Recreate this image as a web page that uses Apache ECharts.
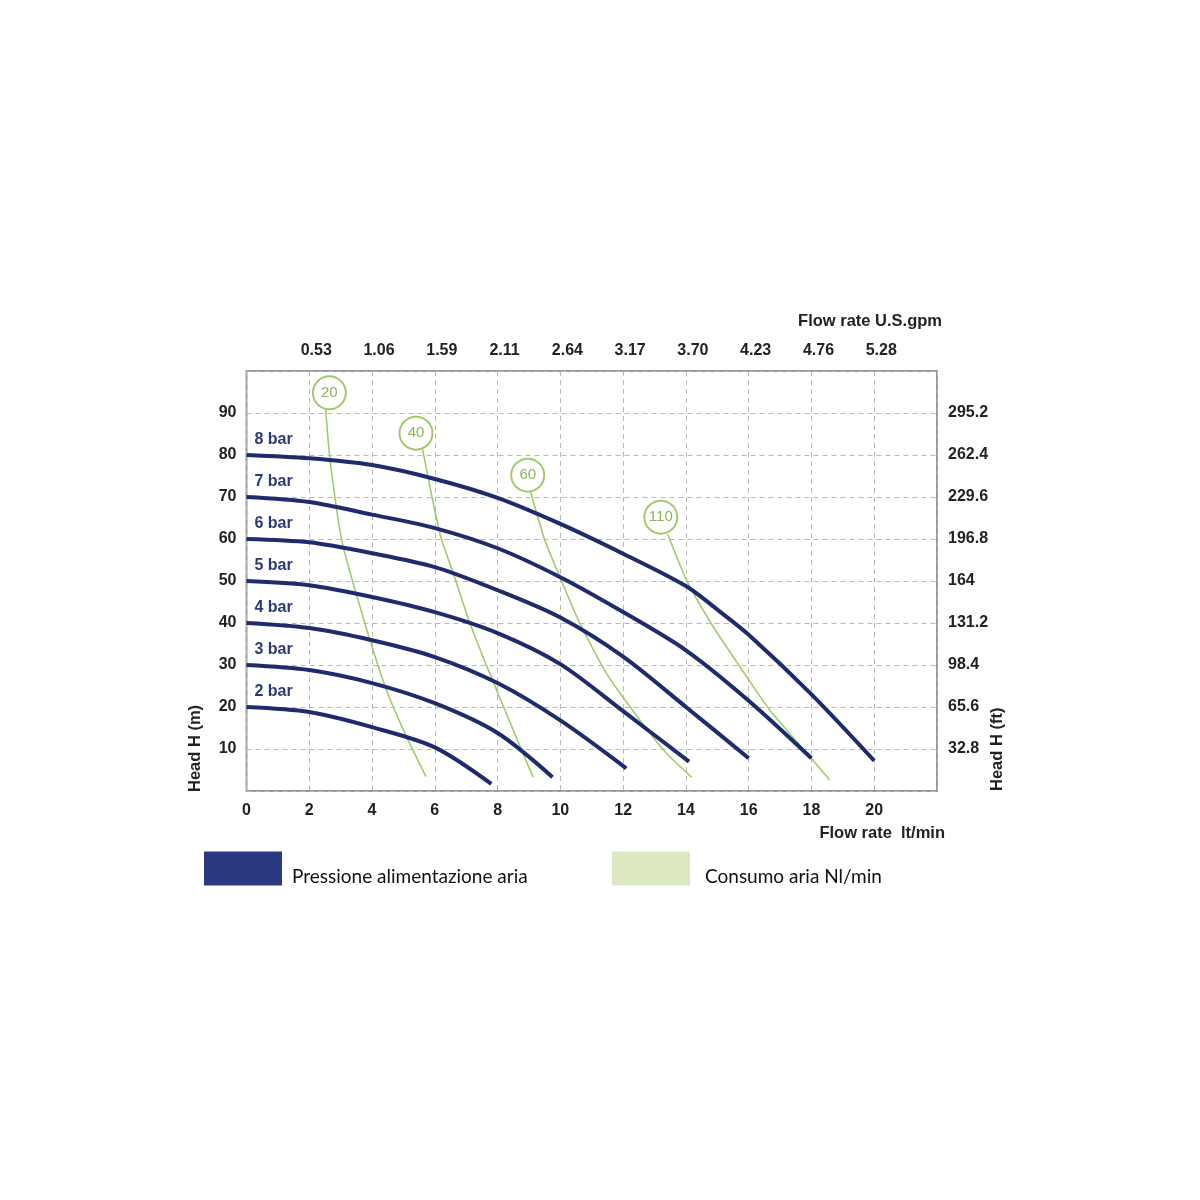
<!DOCTYPE html>
<html>
<head>
<meta charset="utf-8">
<script src="https://cdn.jsdelivr.net/npm/echarts@6/dist/echarts.min.js"></script>
<style>
html,body{margin:0;padding:0;background:#fff;}
#chart{width:1200px;height:1200px;}
</style>
</head>
<body>
<div id="chart"></div>
<script>
// ---- Data ----
const gpmLabels = ['0.53','1.06','1.59','2.11','2.64','3.17','3.70','4.23','4.76','5.28'];
const ftLabels = ['32.8','65.6','98.4','131.2','164','196.8','229.6','262.4','295.2'];

const pressureNames = ['2 bar','3 bar','4 bar','5 bar','6 bar','7 bar','8 bar'];
const bar2 = [[0,20],[2,18.8],[4,15.2],[6,10.4],[7.8,1.7]];
const bar3 = [[0,30],[2,28.8],[4,25.7],[6,20.9],[8,13.8],[9.75,3.3]];
const bar4 = [[0,40],[2,38.8],[4,35.9],[6,31.9],[8,25.7],[10,16.8],[12.1,5.4]];
const bar5 = [[0,50],[2,49],[4,46.2],[6,42.6],[8,37.6],[10,30.2],[12,19],[14.1,7]];
const bar6 = [[0,60],[2,59.2],[4,56.6],[6,53.3],[8,47.8],[10,41.3],[12,32],[14,20],[16,7.8]];
const bar7 = [[0,70],[2,68.8],[4,65.8],[6,62.6],[8,57.8],[10,50.9],[12,42.6],[14,33.5],[16,21.5],[18,7.8]];
const bar8 = [[0,80],[2,79.2],[4,77.6],[6,74.3],[8,69.8],[10,63.6],[12,56.5],[14,48.8],[15,43.2],[16,37.2],[18,23],[20,7.2]];
const pressureData = [bar2,bar3,bar4,bar5,bar6,bar7,bar8];

const airLabels = ['20','40','60','110'];
const airCircle = [[2.64,94.8],[5.4,85.2],[8.96,75.2],[13.2,65.2]];
const air20 = [[2.52,91],[2.66,79],[3.03,59.8],[3.4,49.4],[3.93,36],[4.46,24],[5.1,12.9],[5.72,3.4]];
const air40 = [[5.61,81.4],[5.95,68.5],[6.22,59.8],[6.59,51.8],[7.12,39.9],[7.75,28],[8.5,14.5],[9.13,3.3]];
const air60 = [[9.05,71.3],[9.5,59.8],[9.98,51],[10.62,39.9],[11.47,28],[12.53,16.9],[13.38,9],[14.18,3.3]];
const air110 = [[13.41,61.2],[13.49,59.8],[14.02,50.2],[14.87,39.1],[15.72,29.6],[16.67,19.3],[17.95,8.2],[18.58,2.6]];
const airData = [air20,air40,air60,air110];

// ---- Styles ----
const BLUE = '#1f2b6c';
const BLUE_LEGEND = '#2b3a80';
const GREEN = '#a3cb6e';
const GREEN_TEXT = '#8ab55a';
const GREEN_LEGEND = '#dce8c2';
const FONT = 'Liberation Sans, Arial, sans-serif';
const LEG_P = 'Pressione alimentazione aria';
const LEG_C = 'Consumo aria Nl/min';

const series = [];
pressureData.forEach((d, i) => {
  series.push({
    name: LEG_P,
    type: 'line',
    data: d.map((p, j) => j === 0 ? {
      value: p,
      label: {
        show: true, position: 'top', align: 'left', distance: 7, offset: [8, 0],
        formatter: pressureNames[i], color: '#2d3a78', fontWeight: 'bold',
        fontSize: 16, fontFamily: FONT
      }
    } : p),
    smooth: 0.3,
    symbol: 'circle',
    symbolSize: 0,
    showSymbol: true,
    clip: false,
    lineStyle: { color: BLUE, width: 4 },
    itemStyle: { color: BLUE },
    z: 3
  });
});
airData.forEach((d, i) => {
  series.push({
    name: LEG_C,
    type: 'line',
    data: d,
    smooth: 0.2,
    symbol: 'none',
    lineStyle: { color: GREEN, width: 1.6 },
    itemStyle: { color: GREEN },
    z: 2,
    markPoint: {
      symbol: 'circle',
      symbolSize: 33,
      silent: true,
      itemStyle: { color: '#ffffff', borderColor: GREEN, borderWidth: 2 },
      label: { show: true, position: 'inside', formatter: airLabels[i], color: GREEN_TEXT, fontSize: 15, fontFamily: FONT },
      data: [{ coord: airCircle[i], value: airLabels[i] }]
    }
  });
});

const legendText = { fontFamily: 'Lato, Open Sans, sans-serif', fontSize: 19, color: '#111', lineHeight: 16 };

const chart = echarts.init(document.getElementById('chart'), null, { renderer: 'canvas' });
chart.setOption({
  backgroundColor: '#ffffff',
  animation: false,
  grid: {
    left: 246.5, top: 371, width: 690.5, height: 420,
    show: true, borderColor: '#9a9a9a', borderWidth: 2, backgroundColor: 'transparent'
  },
  legend: [
    {
      left: 199, top: 846, itemWidth: 78, itemHeight: 34, icon: 'rect', selectedMode: false,
      data: [{ name: LEG_P, itemStyle: { color: BLUE_LEGEND } }],
      formatter: n => '\n' + n,
      textStyle: Object.assign({ padding: [0, 0, 0, 5] }, legendText)
    },
    {
      left: 607, top: 846, itemWidth: 78, itemHeight: 34, icon: 'rect', selectedMode: false,
      data: [{ name: LEG_C, itemStyle: { color: GREEN_LEGEND } }],
      formatter: n => '\n' + n,
      textStyle: Object.assign({ padding: [0, 0, 0, 10] }, legendText)
    }
  ],
  xAxis: [
    {
      type: 'value', position: 'bottom', min: 0, max: 22, interval: 2,
      axisLine: { show: false }, axisTick: { show: false },
      splitLine: { show: true, lineStyle: { color: '#b8b8b8', type: [5, 4], width: 1 } },
      axisLabel: {
        margin: 12, color: '#222', fontSize: 16, fontWeight: 'bold', fontFamily: FONT,
        formatter: v => v > 20 ? '' : String(v)
      }
    },
    {
      type: 'value', position: 'top', min: 0, max: 22, interval: 2,
      axisLine: { show: false }, axisTick: { show: false }, splitLine: { show: false },
      axisLabel: {
        margin: 12, color: '#222', fontSize: 16, fontWeight: 'bold', fontFamily: FONT,
        padding: [0, 0, 0, 14],
        formatter: v => (v >= 2 && v <= 20) ? gpmLabels[v / 2 - 1] : ''
      }
    }
  ],
  yAxis: [
    {
      type: 'value', position: 'left', min: 0, max: 100, interval: 10,
      axisLine: { show: false }, axisTick: { show: false },
      splitLine: { show: true, lineStyle: { color: '#b8b8b8', type: [5, 4], width: 1 } },
      axisLabel: {
        margin: 10, color: '#222', fontSize: 16, fontWeight: 'bold', fontFamily: FONT,
        formatter: v => (v > 0 && v < 100) ? String(v) : ''
      }
    },
    {
      type: 'value', position: 'right', min: 0, max: 100, interval: 10,
      axisLine: { show: false }, axisTick: { show: false }, splitLine: { show: false },
      axisLabel: {
        margin: 11, color: '#222', fontSize: 16, fontWeight: 'bold', fontFamily: FONT,
        formatter: v => (v > 0 && v < 100) ? ftLabels[v / 10 - 1] : ''
      }
    }
  ],
  graphic: [
    { type: 'text', right: 258, top: 313, style: { text: 'Flow rate U.S.gpm', fill: '#222', font: 'bold 16.5px ' + FONT } },
    { type: 'text', right: 255, top: 825, style: { text: 'Flow rate  lt/min', fill: '#222', font: 'bold 16.5px ' + FONT } },
    { type: 'text', x: 187, y: 792, rotation: Math.PI / 2, style: { text: 'Head H (m)', fill: '#222', font: 'bold 16.5px ' + FONT } },
    { type: 'text', x: 989, y: 791, rotation: Math.PI / 2, style: { text: 'Head H (ft)', fill: '#222', font: 'bold 16.5px ' + FONT } }
  ],
  series: series
});
</script>
</body>
</html>
